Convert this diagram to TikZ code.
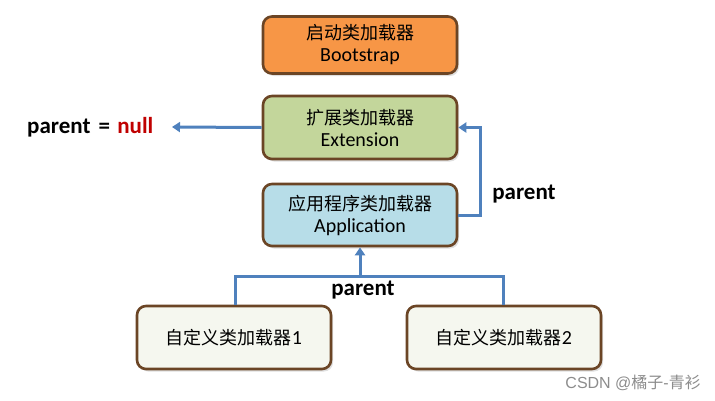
\documentclass[tikz,border=0pt]{standalone}
\usepackage{fontspec}
\setmainfont{Carlito}
\newfontfamily\cjk{Noto Sans CJK SC}
\newfontfamily\wmfont{Liberation Sans}
\usetikzlibrary{shadows,arrows.meta}
\definecolor{boxborder}{HTML}{6B4525}
\definecolor{orangefill}{HTML}{F79646}
\definecolor{greenfill}{HTML}{C3D69B}
\definecolor{bluefill}{HTML}{B7DDE8}
\definecolor{whitefill}{HTML}{F5F7EF}
\definecolor{linkblue}{HTML}{4F81BD}
\definecolor{nullred}{HTML}{C00000}
\newcommand{\cn}[1]{{\cjk\fontsize{18}{22}\selectfont #1}}
\tikzset{
  loader/.style={draw=boxborder, line width=2.6pt, rounded corners=9pt,
    minimum width=194pt, minimum height=60pt, align=center,
    font=\fontsize{20}{22}\selectfont, inner sep=0pt,
    drop shadow={opacity=0.25, shadow xshift=2pt, shadow yshift=-2.5pt}},
  link/.style={draw=linkblue, line width=3pt},
  linkarrow/.style={link, -{Triangle[length=8pt,width=10pt]}},
  lbl/.style={font=\fontsize{23}{26}\selectfont\bfseries, inner sep=0pt}
}
\begin{document}
\begin{tikzpicture}[x=1pt,y=-1pt]
\useasboundingbox (0,0) rectangle (715,400);
\node[loader, fill=orangefill, minimum height=57pt] (boot) at (360,45) {\cn{启动类加载器}\\Bootstrap};
\node[loader, fill=greenfill, minimum height=63pt] (ext) at (360,127.5) {\cn{扩展类加载器}\\Extension};
\node[loader, fill=bluefill, minimum height=62pt] (app) at (360,215) {\cn{应用程序类加载器}\\Application};
\node[loader, fill=whitefill, minimum height=63pt] (c1) at (234,337.5) {\cn{自定义类加载器}1};
\node[loader, fill=whitefill, minimum height=63pt] (c2) at (504,337.5) {\cn{自定义类加载器}2};
\node[lbl, anchor=west] (null) at (27,127) {parent\hspace{3pt} = \hspace{2pt}\textcolor{nullred}{null}};
\coordinate (nulltip) at (172,127);
\draw[linkarrow] (ext.west) -- (nulltip);
\coordinate (rbend) at (480,215);
\draw[linkarrow] (app.east) -- (rbend) |- (ext.east);
\node[lbl] (plabel1) at (524,194) {parent};
\coordinate (junction) at (360,276);
\draw[link] (c1.north -| 235,0) |- (junction) -| (c2.north -| 503,0);
\draw[linkarrow] (junction) -- (app.south);
\node[lbl] (plabel2) at (363,290) {parent};
\node[anchor=east, inner sep=0pt, text=black!45, font=\fontsize{16}{18}\selectfont] (wm) at (701,383) {\wmfont CSDN @{\cjk 橘子}-{\cjk 青衫}};
\end{tikzpicture}
\end{document}
